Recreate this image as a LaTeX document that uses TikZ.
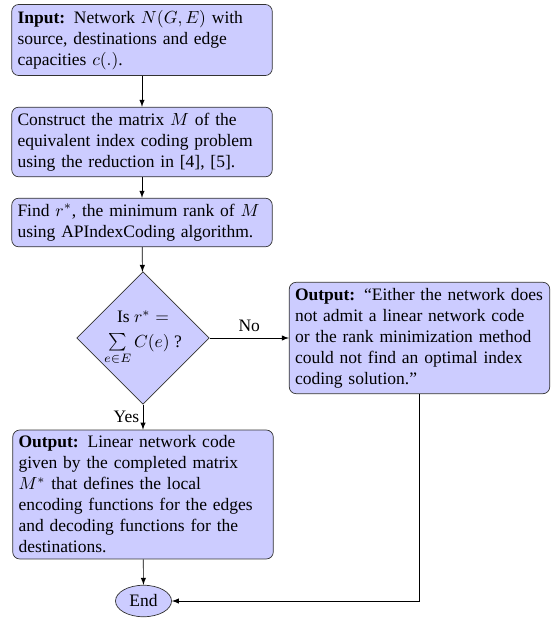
\documentclass[tikz,border=0pt]{standalone}
\usepackage[no-math]{fontspec}
\setmainfont{Liberation Serif}
\usepackage{amsmath}
\usepackage{amssymb}
\usepackage{tikz}
\usetikzlibrary{shapes.geometric,positioning}
\hyphenpenalty=10000
\exhyphenpenalty=10000
\tikzstyle{stepbox} = [draw=black!80, thin, rectangle, rounded corners=4pt, fill=blue!20, text width=5cm, align=left, inner sep=3.3pt]
\tikzstyle{decision} = [draw=black!80, thin, diamond, aspect=1, fill=blue!20, align=center, inner sep=0pt, minimum width=75pt, minimum height=75pt]
\tikzstyle{stopnode} = [draw=black!80, thin, ellipse, fill=blue!20, inner sep=1pt, minimum width=32pt, minimum height=18pt]
\tikzstyle{flow} = [draw, thin, -latex]

\begin{document}
\begin{tikzpicture}[x=0.5714pt, y=-0.5714pt]
\useasboundingbox (0,0) rectangle (553,618);
\node [stepbox] (input) at (142,40) {\textbf{Input:} Network $N(G,E)$ with source, destinations and edge capacities $c(.)$.};
\node [stepbox] (construct) at (142,142) {Construct the matrix $M$ of the equivalent index coding problem using the reduction in [4], [5].};
\node [stepbox] (find) at (142,222.5) {Find $r^*$, the minimum rank of $M$ using APIndexCoding algorithm.};
\node [decision] (check) at (143,338) {Is $r^* =$\\[2pt] $\sum\limits_{e\in E} C(e)$ ?};
\node [stepbox] (fail) at (419.5,338) {\textbf{Output:} ``Either the network does not admit a linear network code or the rank minimization method could not find an optimal index coding solution.''};
\node [stepbox] (output) at (143,494.5) {\textbf{Output:} Linear network code given by the completed matrix $M^*$ that defines the local encoding functions for the edges and decoding functions for the destinations.};
\node [stopnode] (end) at (143.5,601) {End};

\path [flow] (input) -- (construct);
\path [flow] (construct) -- (find);
\path [flow] (find) -- (check);
\path [flow] (check) -- node[above] {No} (fail);
\path [flow] (check) -- node[left, inner sep=2pt] {Yes} (output);
\path [flow] (output) -- (end);
\path [flow] (fail.south) |- (end.east);
\end{tikzpicture}
\end{document}
